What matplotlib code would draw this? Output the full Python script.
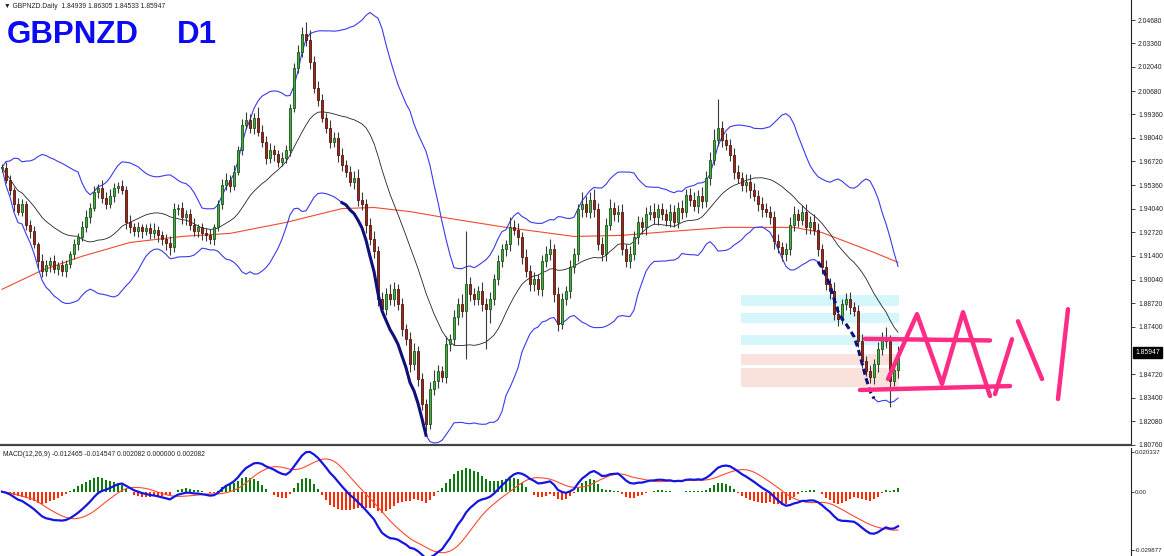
import numpy as np
import pandas as pd
import matplotlib
matplotlib.use('Agg')
import matplotlib.pyplot as plt

# daily closes, left to right
closes = [
    1.9637, 1.9569, 1.9513, 1.9429, 1.9389, 1.9429, 1.9316, 1.9277, 1.9204, 1.9109,
    1.9052, 1.9086, 1.9109, 1.9064, 1.9086, 1.9052, 1.9092, 1.9148, 1.9204, 1.9243,
    1.9300, 1.9356, 1.9412, 1.9502, 1.9524, 1.9468, 1.9429, 1.9479, 1.9524, 1.9535,
    1.9513, 1.9333, 1.9300, 1.9277, 1.9300, 1.9277, 1.9294, 1.9266, 1.9288, 1.9255,
    1.9232, 1.9210, 1.9187, 1.9401, 1.9412, 1.9356, 1.9373, 1.9316, 1.9277, 1.9300,
    1.9266, 1.9255, 1.9232, 1.9300, 1.9429, 1.9541, 1.9569, 1.9535, 1.9614, 1.9738,
    1.9878, 1.9906, 1.9861, 1.9918, 1.9839, 1.9783, 1.9693, 1.9738, 1.9715, 1.9670,
    1.9693, 1.9738, 1.9974, 2.0198, 2.0288, 2.0389, 2.0356, 2.0232, 2.0086, 2.0019,
    1.9918, 1.9861, 1.9783, 1.9805, 1.9710, 1.9653, 1.9614, 1.9558, 1.9580, 1.9457,
    1.9429, 1.9316, 1.9232, 1.9165, 1.8895, 1.8839, 1.8923, 1.8895, 1.8951, 1.8867,
    1.8726, 1.8670, 1.8530, 1.8603, 1.8446, 1.8305, 1.8193, 1.8389, 1.8434, 1.8491,
    1.8457, 1.8642, 1.8670, 1.8794, 1.8867, 1.8828, 1.8979, 1.8923, 1.8895, 1.8940,
    1.8867, 1.8839, 1.8895, 1.9007, 1.9109, 1.9176, 1.9204, 1.9300, 1.9288, 1.9243,
    1.9131, 1.9052, 1.8979, 1.9007, 1.8951, 1.9109, 1.9148, 1.9176, 1.8923, 1.8755,
    1.8895, 1.8940, 1.9075, 1.9148, 1.9401, 1.9429, 1.9389, 1.9457, 1.9401, 1.9204,
    1.9148, 1.9316, 1.9412, 1.9373, 1.9389, 1.9176, 1.9109, 1.9148, 1.9243, 1.9333,
    1.9300, 1.9373, 1.9389, 1.9356, 1.9401, 1.9373, 1.9344, 1.9389, 1.9333, 1.9412,
    1.9389, 1.9485, 1.9457, 1.9423, 1.9479, 1.9446, 1.9580, 1.9682, 1.9794, 1.9861,
    1.9794, 1.9766, 1.9710, 1.9614, 1.9580, 1.9541, 1.9558, 1.9513, 1.9479, 1.9429,
    1.9401, 1.9389, 1.9356, 1.9221, 1.9187, 1.9148, 1.9176, 1.9316, 1.9373, 1.9344,
    1.9389, 1.9300, 1.9333, 1.9288, 1.9176, 1.9075, 1.8979, 1.8940, 1.8811, 1.8783,
    1.8867, 1.8895, 1.8850, 1.8828, 1.8659, 1.8547, 1.8491, 1.8457, 1.8530, 1.8614,
    1.8682, 1.8659, 1.8434, 1.8494, 1.8595,
]

# wick lengths above / below the body, in pips
upper_wick_pips = [
    20, 30, 25, 15, 35, 30, 20, 25, 30, 15, 40, 30, 25, 35, 20, 30, 25, 20, 30, 25, 35, 40, 25, 30, 20,
    45, 30, 35, 25, 20, 30, 20, 35, 25, 30, 20, 25, 30, 35, 20, 25, 30, 40, 35, 20, 30, 25, 30, 35, 20,
    25, 30, 35, 20, 25, 30, 40, 25, 35, 20, 30, 45, 35, 25, 60, 40, 30, 35, 25, 20, 30, 25, 20, 30, 40,
    40, 70, 55, 35, 40, 30, 25, 45, 35, 30, 40, 25, 30, 35, 50, 40, 30, 35, 45, 30, 40, 35, 60, 40, 30,
    35, 30, 40, 45, 30, 35, 30, 40, 60, 35, 30, 45, 30, 40, 35, 55, 300, 40, 35, 30, 50, 35, 40, 30, 35,
    30, 25, 60, 40, 35, 30, 45, 35, 40, 30, 35, 45, 60, 30, 40, 35, 30, 40, 35, 30, 70, 45, 40, 60, 35,
    40, 35, 50, 30, 35, 40, 30, 45, 35, 30, 25, 40, 35, 50, 30, 35, 30, 40, 35, 30, 45, 30, 35, 40, 30,
    50, 35, 40, 60, 160, 40, 35, 30, 40, 35, 30, 45, 40, 35, 30, 40, 35, 30, 35, 40, 30, 35, 40, 45, 30,
    35, 40, 30, 45, 35, 30, 40, 35, 55, 45, 30, 35, 40, 30, 35, 40, 30, 35, 30, 40, 30, 55, 35, 40, 36,
]
lower_wick_pips = [
    25, 20, 30, 35, 20, 25, 30, 35, 20, 40, 30, 25, 35, 20, 30, 25, 30, 20, 25, 30, 20, 25, 30, 20, 35,
    30, 25, 20, 35, 30, 25, 40, 30, 25, 30, 35, 20, 30, 25, 40, 30, 35, 45, 25, 30, 35, 40, 30, 25, 30,
    35, 30, 25, 30, 20, 25, 30, 35, 25, 20, 30, 25, 30, 35, 25, 30, 35, 30, 40, 30, 25, 30, 35, 25, 30,
    30, 35, 40, 30, 35, 25, 30, 35, 30, 40, 35, 30, 25, 40, 35, 30, 45, 30, 35, 40, 30, 35, 30, 40, 35,
    40, 30, 45, 35, 40, 35, 40, 30, 35, 40, 30, 35, 40, 30, 45, 35, 270, 40, 35, 30, 40, 225, 80, 35, 30,
    30, 40, 35, 30, 45, 35, 30, 40, 35, 30, 40, 35, 30, 45, 40, 30, 35, 40, 30, 35, 45, 30, 35, 40, 30,
    35, 40, 30, 35, 40, 30, 35, 40, 30, 35, 40, 45, 30, 35, 40, 30, 35, 40, 30, 35, 40, 30, 35, 30, 40,
    35, 30, 40, 30, 35, 40, 30, 35, 40, 30, 35, 40, 45, 30, 35, 40, 30, 35, 40, 30, 35, 40, 30, 35, 40,
    30, 35, 40, 30, 35, 40, 30, 45, 35, 40, 30, 35, 40, 30, 35, 40, 30, 35, 40, 45, 35, 40, 146, 30, 41,
]

# slow red moving average, read at a few bars
ma_bars = [0, 10, 20, 32, 45, 57, 71, 85, 93, 102, 112, 126, 143, 155, 167, 181, 198, 205, 218, 224]
ma_values = [1.8951, 1.9058, 1.9137, 1.9215, 1.9249, 1.9266, 1.9328, 1.9406, 1.9412, 1.9389,
             1.9350, 1.9300, 1.9249, 1.9255, 1.9277, 1.9300, 1.9300, 1.9271, 1.9159, 1.9103]

# shaded zones (low, high) and the bar span they cover
supply_zones = [(1.8856, 1.8918), (1.8760, 1.8816), (1.8637, 1.8693)]
demand_zones = [(1.8524, 1.8586), (1.8401, 1.8507)]
zone_bars = (184.7, 224.3)

# hand drawn pink pattern (bar, price)
pink_lines = [
    ([215.75, 247.0], [1.8672, 1.8663]),
    ([214.5, 252.0], [1.8384, 1.8406]),
    ([221.5, 228.75, 235.0, 240.25, 247.0], [1.8446, 1.8811, 1.8418, 1.8822, 1.8350]),
    ([248.25, 252.5], [1.8361, 1.8670]),
    ([254.0, 260.0], [1.8771, 1.8446]),
    ([264.0, 266.5], [1.8333, 1.8839]),
]

price_ticks = [2.04680, 2.03360, 2.02040, 2.00680, 1.99360, 1.98040, 1.96720, 1.95360,
               1.94040, 1.92720, 1.91400, 1.90040, 1.88720, 1.87400, 1.84720, 1.83400,
               1.82080, 1.80760]
last_price = 1.85947
macd_ticks = [0.020337, 0.0, -0.029877]

# ---- indicators
s = pd.Series(closes)
c = s.values
o = np.r_[c[0], c[:-1]]
hi = np.maximum(o, c) + np.array(upper_wick_pips) * 1e-4
lo = np.minimum(o, c) - np.array(lower_wick_pips) * 1e-4
x = np.arange(len(c))

mid = s.rolling(20, min_periods=1).mean()
sd = s.rolling(20, min_periods=1).std(ddof=0)
bb_up = (mid + 2 * sd).values
bb_dn = (mid - 2 * sd).values

macd = s.ewm(span=12, adjust=False).mean() - s.ewm(span=26, adjust=False).mean()
signal = macd.rolling(9, min_periods=1).mean()
hist = macd - signal

# ---- figure
fig = plt.figure(figsize=(11.64, 5.56), dpi=100)
ax = fig.add_axes([0, 111 / 556, 1131 / 1164, 445 / 556])
ax2 = fig.add_axes([0, 0, 1131 / 1164, 108 / 556])
xmax = 282.25
small = dict(family='Liberation Sans', fontsize=4.9)

for lo_, hi_ in supply_zones:
    ax.fill_between(zone_bars, lo_, hi_, color='#d5f6fa', lw=0, zorder=1)
for lo_, hi_ in demand_zones:
    ax.fill_between(zone_bars, lo_, hi_, color='#fbe1dc', lw=0, zorder=1)

ax.plot(ma_bars, ma_values, color='#f04a30', lw=0.8, zorder=2)
ax.plot(x, mid, color='#222222', lw=0.6, zorder=2)
ax.plot(x, bb_up, color='#3a3af0', lw=0.8, zorder=2)

thin_dn = bb_dn.copy()
thin_dn[86:106] = np.nan
thin_dn[205:218] = np.nan
ax.plot(x, thin_dn, color='#3a3af0', lw=0.8, zorder=2)
ax.plot(x[85:107], bb_dn[85:107], color='#10107a', lw=2.2, zorder=4)
ax.plot(x[204:219], bb_dn[204:219], color='#10107a', lw=2.2, ls=(0, (2, 1.2)), zorder=4)

bull = c >= o
ax.vlines(x, lo, hi, color='#3a3a3a', lw=0.8, zorder=3)
body_h = np.maximum(np.abs(c - o), 0.0004)
body_b = np.minimum(o, c)
ax.bar(x[bull], body_h[bull], bottom=body_b[bull], width=0.62,
       color='#5aa05a', edgecolor='#0b5e0b', lw=0.6, zorder=3)
ax.bar(x[~bull], body_h[~bull], bottom=body_b[~bull], width=0.62,
       color='#8e2e1e', edgecolor='#5a1208', lw=0.6, zorder=3)

for bx, by in pink_lines:
    ax.plot(bx, by, color='#ff2c86', lw=3.2, solid_capstyle='round', zorder=5)

ax.set_xlim(-0.5, xmax)
ax.set_ylim(1.8074, 2.0581)

# ---- MACD panel
ax2.bar(x[hist >= 0], hist[hist >= 0], width=0.6, color='#0c7a0c', zorder=2)
ax2.bar(x[hist < 0], hist[hist < 0], width=0.6, color='#ff2a00', zorder=2)
ax2.plot(x, signal, color='#ff4a30', lw=0.8, zorder=3)
ax2.plot(x, macd, color='#1515e0', lw=1.6, zorder=4)
ax2.set_xlim(-0.5, xmax)
ax2.set_ylim(-0.032951, 0.022387)

for a, ticks in [(ax, price_ticks), (ax2, macd_ticks)]:
    for side in ['left', 'top', 'bottom']:
        a.spines[side].set_visible(False)
    a.spines['right'].set_color('#222222')
    a.spines['right'].set_linewidth(0.8)
    a.set_xticks([])
    a.yaxis.tick_right()
    a.set_yticks(ticks)
ax.tick_params(axis='y', length=3, width=0.6, pad=2, labelsize=4.9, colors='#222222')
ax2.tick_params(axis='y', length=2, width=0.6, pad=0.5, labelsize=4.4, colors='#222222')
ax.set_yticklabels([f'{v:.5f}' for v in price_ticks], family='Liberation Sans')
ax2.set_yticklabels(['0.020337', '0.00', '-0.029877'], family='Liberation Sans')
ax.spines['bottom'].set_visible(True)
ax.spines['bottom'].set_color('#444444')
ax.spines['bottom'].set_linewidth(1.6)

ax.text(1.004, last_price, f'{last_price:.5f}', transform=ax.get_yaxis_transform(),
        va='center', ha='left', color='white', fontsize=4.9, family='Liberation Sans',
        bbox=dict(boxstyle='square,pad=0.3', fc='black', ec='black'), zorder=6)

ax.text(4 / 1131, 1 - 6 / 445, '\u25bc GBPNZD.Daily  1.84939 1.86305 1.84533 1.85947',
        transform=ax.transAxes, va='center', ha='left', color='#222222', **small)
ax.text(7 / 1131, 1 - 35 / 445, 'GBPNZD', transform=ax.transAxes, va='center', ha='left',
        color='#0a0af5', fontsize=22.5, weight='bold', family='Liberation Sans')
ax.text(177 / 1131, 1 - 35 / 445, 'D1', transform=ax.transAxes, va='center', ha='left',
        color='#0a0af5', fontsize=22.5, weight='bold', family='Liberation Sans')
ax2.text(3 / 1131, 1 - 6 / 108, 'MACD(12,26,9) -0.012465 -0.014547 0.002082 0.000000 0.002082',
         transform=ax2.transAxes, va='center', ha='left', color='#222222', **small)

fig.savefig('out.png', dpi=100)
